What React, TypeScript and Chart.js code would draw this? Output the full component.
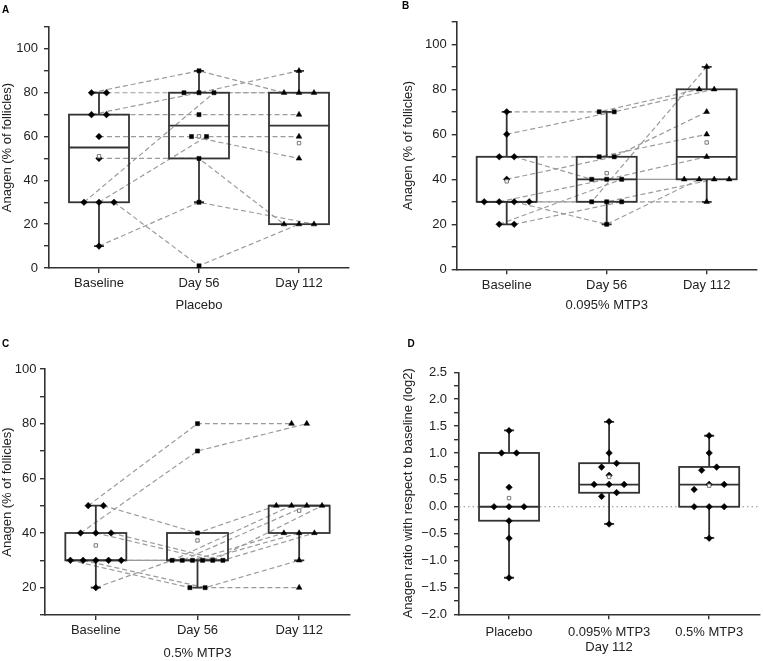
import React, { useEffect, useRef } from "react";
import { Chart, registerables } from "chart.js";

Chart.register(...registerables);

const FONT = '"Liberation Sans", Arial, Helvetica, sans-serif';
const AXIS_COLOR = "#333333";
const TEXT_COLOR = "#222222";
Chart.defaults.font.family = FONT;
Chart.defaults.color = TEXT_COLOR;

// ---------- categories ----------
const TIMEPOINTS = ["Baseline", "Day 56", "Day 112"];
const GROUPS = ["Placebo", "0.095% MTP3", "0.5% MTP3"];

// ---------- Panel A: Placebo, anagen (% of follicles) per subject ----------
const placeboBaseline = [80, 80, 70, 70, 60, 50, 30, 30, 30, 10];
const placeboDay56 = [90, 80, 80, 70, 60, 50, 80, 60, 1, 30];
const placeboDay112 = [80, 80, 90, 70, 50, 20, 80, 60, 20, 20];

// ---------- Panel B: 0.095% MTP3 ----------
const lowDoseBaseline = [70, 60, 50, 50, 40, 30, 30, 30, 30, 20, 20];
const lowDoseDay56 = [70, 70, 50, 40, 50, 30, 40, 20, 30, 40, 30];
const lowDoseDay112 = [80, 80, 60, 40, 70, 90, 50, 40, 40, 40, 30];

// ---------- Panel C: 0.5% MTP3 ----------
const highDoseBaseline = [50, 40, 50, 30, 30, 20, 30, 30, 30, 40, 40];
const highDoseDay56 = [80, 70, 40, 20, 20, 30, 30, 30, 30, 30, 30];
const highDoseDay112 = [80, 80, 50, 20, 30, 50, 50, 40, 40, 50, 40];

// ---------- box statistics as drawn: [lower whisker, Q1, median, Q3, upper whisker] ----------
const placeboBoxes = [
  [10, 30, 55, 70, 80],
  [30, 50, 65, 80, 90],
  [20, 20, 65, 80, 90],
];
const lowDoseBoxes = [
  [20, 30, 30, 50, 70],
  [20, 30, 40, 50, 70],
  [30, 40, 50, 80, 90],
];
const highDoseBoxes = [
  [20, 30, 30, 40, 50],
  [20, 30, 30, 40, 40],
  [30, 40, 50, 50, 50],
];
const ratioBoxes = [
  [-1.32, -0.26, 0, 1.0, 1.42],
  [-0.32, 0.26, 0.41, 0.81, 1.58],
  [-0.58, 0, 0.41, 0.74, 1.32],
];

// ---------- helpers ----------
const log2Ratio = (base: number[], end: number[]) =>
  base.map((b, i) => Math.log2(end[i] / b));
const mean = (a: number[]) => a.reduce((s, v) => s + v, 0) / a.length;

// deterministic side-by-side spreading of coinciding values (beeswarm-like)
function spread(values: number[], tol: number): number[] {
  const idx = values.map((_, i) => i).sort((a, b) => values[a] - values[b] || a - b);
  const out = new Array(values.length).fill(0);
  let group: number[] = [];
  const flush = () => {
    const n = group.length;
    const step = n > 1 ? Math.min(0.15, 0.5 / (n - 1)) : 0;
    group.forEach((id, k) => (out[id] = (k - (n - 1) / 2) * step));
    group = [];
  };
  idx.forEach((id) => {
    if (group.length && values[id] - values[group[group.length - 1]] > tol) flush();
    group.push(id);
  });
  flush();
  return out;
}

const RADIUS: Record<string, number> = { rectRot: 3.3, rect: 2.9, triangle: 3.3 };

interface Column { values: number[]; style: string }
interface Frame { left: number; right: number; top: number; bottom: number; titleX: number; titleY: number }
interface PanelSpec {
  letter: string;
  x: number; y: number; w: number; h: number;
  letterX: number; letterY: number;
  frame: Frame;
  columns: Column[];
  paired: boolean;
  boxes: number[][];
  categories: string[];
  xTitle: string;
  yTitle: string;
  yMin: number; yMax: number; yStep: number; yLabelStep: number; yLabelMax: number;
  decimals: number;
  tol: number;
  zeroLine: boolean;
  yTickPad: number;
  xTickPad: number;
}

const PANELS: PanelSpec[] = [
  {
    letter: "A", x: 0, y: 0, w: 380, h: 320, letterX: 2, letterY: 4.7,
    frame: { left: 49, right: 349, top: 27, bottom: 268, titleX: 7.5, titleY: 305.7 },
    columns: [
      { values: placeboBaseline, style: "rectRot" },
      { values: placeboDay56, style: "rect" },
      { values: placeboDay112, style: "triangle" },
    ],
    paired: true, boxes: placeboBoxes, categories: TIMEPOINTS,
    xTitle: GROUPS[0], yTitle: "Anagen (% of follicles)",
    yMin: 0, yMax: 110, yStep: 10, yLabelStep: 20, yLabelMax: 100, decimals: 0,
    tol: 1, zeroLine: false, yTickPad: 6, xTickPad: 3,
  },
  {
    letter: "B", x: 380, y: 0, w: 383, h: 320, letterX: 22, letterY: 1.4,
    frame: { left: 76.7, right: 376.7, top: 21.8, bottom: 269.3, titleX: 28, titleY: 305.7 },
    columns: [
      { values: lowDoseBaseline, style: "rectRot" },
      { values: lowDoseDay56, style: "rect" },
      { values: lowDoseDay112, style: "triangle" },
    ],
    paired: true, boxes: lowDoseBoxes, categories: TIMEPOINTS,
    xTitle: GROUPS[1], yTitle: "Anagen (% of follicles)",
    yMin: 0, yMax: 110, yStep: 10, yLabelStep: 20, yLabelMax: 100, decimals: 0,
    tol: 1, zeroLine: false, yTickPad: 5, xTickPad: 3,
  },
  {
    letter: "C", x: 0, y: 320, w: 380, h: 341, letterX: 2, letterY: 18.7,
    frame: { left: 45, right: 350, top: 49, bottom: 295, titleX: 7.5, titleY: 333 },
    columns: [
      { values: highDoseBaseline, style: "rectRot" },
      { values: highDoseDay56, style: "rect" },
      { values: highDoseDay112, style: "triangle" },
    ],
    paired: true, boxes: highDoseBoxes, categories: TIMEPOINTS,
    xTitle: GROUPS[2], yTitle: "Anagen (% of follicles)",
    yMin: 10, yMax: 100, yStep: 10, yLabelStep: 20, yLabelMax: 100, decimals: 0,
    tol: 1, zeroLine: false, yTickPad: 3.5, xTickPad: 3,
  },
  {
    letter: "D", x: 380, y: 320, w: 383, h: 341, letterX: 27.5, letterY: 19,
    frame: { left: 79, right: 380, top: 52.3, bottom: 294.3, titleX: 28, titleY: 327.5 },
    columns: [
      { values: log2Ratio(placeboBaseline, placeboDay112), style: "rectRot" },
      { values: log2Ratio(lowDoseBaseline, lowDoseDay112), style: "rectRot" },
      { values: log2Ratio(highDoseBaseline, highDoseDay112), style: "rectRot" },
    ],
    paired: false, boxes: ratioBoxes, categories: GROUPS,
    xTitle: "Day 112", yTitle: "Anagen ratio with respect to baseline (log2)",
    yMin: -2, yMax: 2.5, yStep: 0.25, yLabelStep: 0.5, yLabelMax: 2.5, decimals: 1,
    tol: 0.1, zeroLine: true, yTickPad: 7, xTickPad: 5,
  },
];

function makeBoxPlugin(p: PanelSpec) {
  const drawBoxes = (chart: any) => {
    const { ctx, scales } = chart;
    const xs = scales.x;
    const ys = scales.y;
    const px = (v: number) => xs.getPixelForValue(v);
    const py = (v: number) => ys.getPixelForValue(v);
    ctx.save();
    ctx.strokeStyle = AXIS_COLOR;
    ctx.lineWidth = 1.8;
    ctx.setLineDash([]);
    p.boxes.forEach((b, t) => {
      const [lo, q1, med, q3, hi] = b;
      const c = t + 1;
      const l = px(c - 0.3);
      const r = px(c + 0.3);
      ctx.strokeRect(l, py(q3), r - l, py(q1) - py(q3));
      ctx.beginPath();
      ctx.moveTo(l, py(med));
      ctx.lineTo(r, py(med));
      if (hi > q3) {
        ctx.moveTo(px(c), py(q3));
        ctx.lineTo(px(c), py(hi));
        ctx.moveTo(px(c - 0.05), py(hi));
        ctx.lineTo(px(c + 0.05), py(hi));
      }
      if (lo < q1) {
        ctx.moveTo(px(c), py(q1));
        ctx.lineTo(px(c), py(lo));
        ctx.moveTo(px(c - 0.05), py(lo));
        ctx.lineTo(px(c + 0.05), py(lo));
      }
      ctx.stroke();
    });
    ctx.restore();
  };
  return {
    id: "boxplot" + p.letter,
    beforeDatasetsDraw(chart: any) {
      chart.$boxDone = false;
      if (p.zeroLine) {
        const { ctx, chartArea, scales } = chart;
        const y0 = scales.y.getPixelForValue(0);
        ctx.save();
        ctx.strokeStyle = "#8a8a8a";
        ctx.lineWidth = 1.2;
        ctx.setLineDash([1.5, 3]);
        ctx.beginPath();
        ctx.moveTo(chartArea.left, y0);
        ctx.lineTo(chartArea.right, y0);
        ctx.stroke();
        ctx.restore();
      }
    },
    beforeDatasetDraw(chart: any, args: any) {
      const ds = chart.data.datasets[args.index];
      if (!chart.$boxDone && !ds.isLink) {
        drawBoxes(chart);
        chart.$boxDone = true;
      }
    },
    afterDatasetsDraw(chart: any) {
      if (!chart.$boxDone) {
        drawBoxes(chart);
        chart.$boxDone = true;
      }
    },
  };
}

function buildConfig(p: PanelSpec): any {
  const offsets = p.columns.map((c) => spread(c.values, p.tol));
  const datasets: any[] = [];
  if (p.paired) {
    const m = p.columns[0].values.length;
    for (let i = 0; i < m; i++) {
      datasets.push({
        isLink: true,
        data: p.columns.map((c, t) => ({ x: t + 1 + offsets[t][i], y: c.values[i] })),
        showLine: true,
        borderColor: "#9b9b9b",
        borderWidth: 1.2,
        borderDash: [5, 3],
        pointRadius: 0,
        pointHoverRadius: 0,
        order: 3,
      });
    }
  }
  p.columns.forEach((c, t) => {
    datasets.push({
      data: c.values.map((v, i) => ({ x: t + 1 + offsets[t][i], y: v })),
      pointStyle: c.style,
      pointRadius: RADIUS[c.style],
      pointHoverRadius: RADIUS[c.style],
      backgroundColor: "#000000",
      borderColor: "#000000",
      borderWidth: 0.5,
      clip: false,
      order: 1,
    });
  });
  datasets.push({
    data: p.columns.map((c, t) => ({ x: t + 1, y: mean(c.values) })),
    pointStyle: "rect",
    pointRadius: 2.4,
    pointHoverRadius: 2.4,
    backgroundColor: "#ffffff",
    borderColor: "#7a7a7a",
    borderWidth: 1,
    clip: false,
    order: 0,
  });

  const f = p.frame;
  const half = (13 * 1.2) / 2;
  const padLeft = Math.max(0, f.titleX - half);
  const yWidth = f.left - padLeft;
  const scaleBottom = f.titleY + half;
  const xHeight = scaleBottom - f.bottom;
  const padBottom = p.h - scaleBottom;

  const fmt = (v: number) =>
    p.decimals ? v.toFixed(p.decimals).replace("-", "\u2212") : String(Math.round(v));

  return {
    type: "scatter",
    data: { datasets },
    plugins: [makeBoxPlugin(p)],
    options: {
      animation: false,
      responsive: false,
      maintainAspectRatio: false,
      events: [],
      layout: { padding: { left: padLeft, right: p.w - f.right, top: f.top, bottom: padBottom } },
      plugins: { legend: { display: false }, tooltip: { enabled: false }, title: { display: false } },
      scales: {
        x: {
          type: "linear",
          min: 0.5,
          max: 3.5,
          afterBuildTicks: (s: any) => {
            s.ticks = p.categories.map((_, i) => ({ value: i + 1 }));
          },
          afterFit: (s: any) => {
            s.height = xHeight;
          },
          ticks: {
            autoSkip: false,
            maxRotation: 0,
            minRotation: 0,
            padding: p.xTickPad,
            color: TEXT_COLOR,
            font: { size: 13, family: FONT },
            callback: (v: any) => p.categories[Math.round(Number(v)) - 1] ?? "",
          },
          grid: {
            display: true,
            drawOnChartArea: false,
            drawTicks: true,
            tickLength: 5,
            color: AXIS_COLOR,
            lineWidth: 1.4,
          },
          border: { display: true, color: AXIS_COLOR, width: 1.6 },
          title: {
            display: true,
            text: p.xTitle,
            color: TEXT_COLOR,
            font: { size: 13, family: FONT },
            padding: 0,
          },
        },
        y: {
          type: "linear",
          min: p.yMin,
          max: p.yMax,
          afterFit: (s: any) => {
            s.width = yWidth;
          },
          ticks: {
            stepSize: p.yStep,
            autoSkip: false,
            padding: p.yTickPad,
            color: TEXT_COLOR,
            font: { size: 13, family: FONT },
            callback: (v: any) => {
              const val = Number(v);
              const k = val / p.yLabelStep;
              if (Math.abs(k - Math.round(k)) > 1e-6 || val > p.yLabelMax + 1e-9) return "";
              return fmt(val);
            },
          },
          grid: {
            display: true,
            drawOnChartArea: false,
            drawTicks: true,
            tickLength: 5,
            color: AXIS_COLOR,
            lineWidth: 1.4,
          },
          border: { display: true, color: AXIS_COLOR, width: 1.6 },
          title: {
            display: true,
            text: p.yTitle,
            color: TEXT_COLOR,
            font: { size: 13, family: FONT },
            padding: 0,
          },
        },
      },
    },
  };
}

function Panel({ spec }: { spec: PanelSpec }) {
  const ref = useRef<HTMLCanvasElement | null>(null);
  useEffect(() => {
    if (!ref.current) return;
    const chart = new Chart(ref.current, buildConfig(spec));
    return () => chart.destroy();
  }, [spec]);
  return (
    <div style={{ position: "absolute", left: spec.x, top: spec.y, width: spec.w, height: spec.h }}>
      <canvas
        ref={ref}
        width={spec.w}
        height={spec.h}
        style={{ position: "absolute", left: 0, top: 0, width: spec.w, height: spec.h }}
      />
      <div
        style={{
          position: "absolute",
          left: spec.letterX,
          top: spec.letterY,
          font: `bold 10px ${FONT}`,
          lineHeight: "10px",
          color: "#000",
        }}
      >
        {spec.letter}
      </div>
    </div>
  );
}

export default function App() {
  return (
    <div
      style={{
        position: "absolute",
        left: 0,
        top: 0,
        width: 763,
        height: 661,
        background: "#ffffff",
        overflow: "hidden",
      }}
    >
      {PANELS.map((p) => (
        <Panel key={p.letter} spec={p} />
      ))}
    </div>
  );
}
